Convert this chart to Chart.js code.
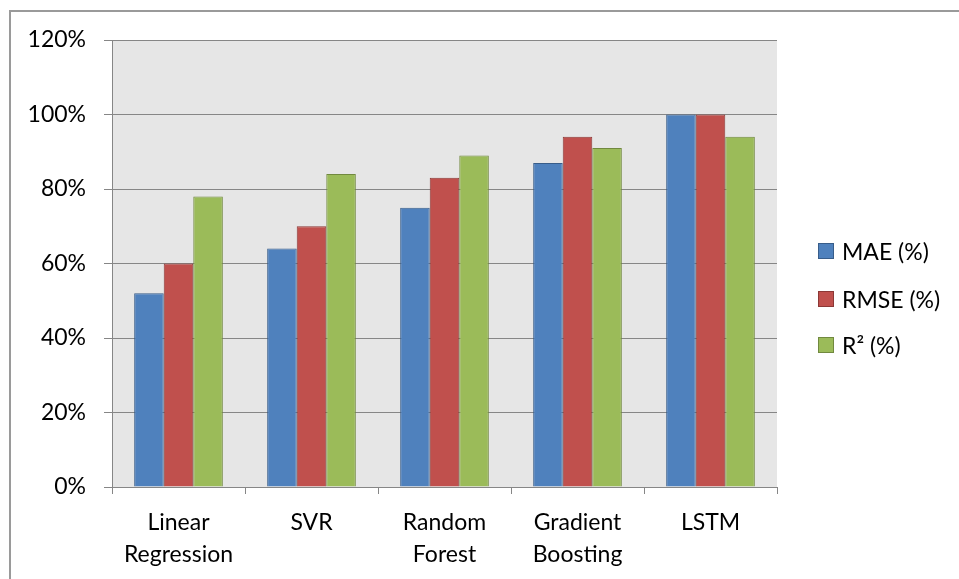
<!DOCTYPE html>
<html>
<head>
<meta charset="utf-8">
<script src="https://cdn.jsdelivr.net/npm/chart.js@4/dist/chart.umd.min.js"></script>
<style>
  html, body { margin: 0; padding: 0; background: #fff; }
  #wrap { position: relative; width: 959px; height: 579px; overflow: hidden; }
  #frame { position: absolute; left: 9px; top: 10px; width: 960px; height: 580px;
           border-left: 2px solid #9a9a9a; border-top: 2px solid #9a9a9a; box-sizing: border-box; }
  canvas { position: absolute; left: 0; top: 0; }
  .lg { position: absolute; left: 818px; height: 24px; display: flex; align-items: center;
        font-family: Lato, sans-serif; font-size: 23px; color: #000; white-space: nowrap; }
  .lg span.sw { display: inline-block; width: 14px; height: 14px; margin-right: 8px; border: 1px solid; }
</style>
</head>
<body>
<div id="wrap">
  <div id="frame"></div>
  <canvas id="c" width="959" height="579"></canvas>
  <div id="legend"></div>
</div>
<script>
const categories = [["Linear", "Regression"], "SVR", ["Random", "Forest"], ["Gradient", "Boosting"], "LSTM"];
const seriesNames = ["MAE (%)", "RMSE (%)", "R\u00B2 (%)"];
const maeValues  = [52, 64, 75, 87, 100];
const rmseValues = [60, 70, 83, 94, 100];
const r2Values   = [78, 84, 89, 91, 94];
const yTicks = [0, 20, 40, 60, 80, 100, 120];

const fills   = ["#4F81BD", "#C0504D", "#9BBB59"];
const borders = ["#385D8A", "#8C3836", "#71893F"];
const FONT = { family: "Lato, sans-serif", size: 23, lineHeight: 32 / 23 };

const plotBg = {
  id: "plotBg",
  beforeDraw(chart) {
    const { ctx, chartArea: a } = chart;
    ctx.save();
    ctx.fillStyle = "#E6E6E6";
    ctx.fillRect(a.left, a.top, a.right - a.left, a.bottom - a.top);
    ctx.restore();
  }
};

const seriesValues = [maeValues, rmseValues, r2Values];
const chart = new Chart(document.getElementById("c"), {
  type: "bar",
  data: {
    labels: categories,
    datasets: seriesNames.map((n, i) => ({
      label: n,
      data: seriesValues[i],
      backgroundColor: fills[i],
      borderColor: borders[i],
      borderWidth: 1,
      borderSkipped: "bottom",
      categoryPercentage: 3 / 4.5,
      barPercentage: 1.0
    }))
  },
  options: {
    responsive: false,
    animation: false,
    devicePixelRatio: 1,
    layout: { padding: { left: 0, top: 40, right: 182, bottom: 0 } },
    plugins: { legend: { display: false }, tooltip: { enabled: false } },
    scales: {
      x: {
        grid: { drawOnChartArea: false, drawTicks: true, tickLength: 7, color: "#868686", lineWidth: 1, offset: true },
        border: { display: true, color: "#868686", width: 1 },
        ticks: { color: "#000", font: FONT, padding: 13, maxRotation: 0, autoSkip: false },
        afterFit(s) { s.height = 92; }
      },
      y: {
        min: 0, max: 120,
        afterBuildTicks(s) { s.ticks = yTicks.map(v => ({ value: v })); },
        grid: { color: "#868686", lineWidth: 1, drawTicks: true, tickLength: 8 },
        border: { display: true, color: "#868686", width: 1 },
        ticks: { color: "#000", font: FONT, padding: 18, callback: v => v + "%" },
        afterFit(s) { s.width = 112; }
      }
    }
  },
  plugins: [plotBg]
});

const lgTops = [251, 299, 345];
const lg = document.getElementById("legend");
seriesNames.forEach((n, i) => {
  const d = document.createElement("div");
  d.className = "lg";
  d.style.top = (lgTops[i] - 12) + "px";
  const sw = document.createElement("span");
  sw.className = "sw";
  sw.style.background = fills[i];
  sw.style.borderColor = borders[i];
  d.appendChild(sw);
  d.appendChild(document.createTextNode(n));
  lg.appendChild(d);
});
</script>
</body>
</html>
